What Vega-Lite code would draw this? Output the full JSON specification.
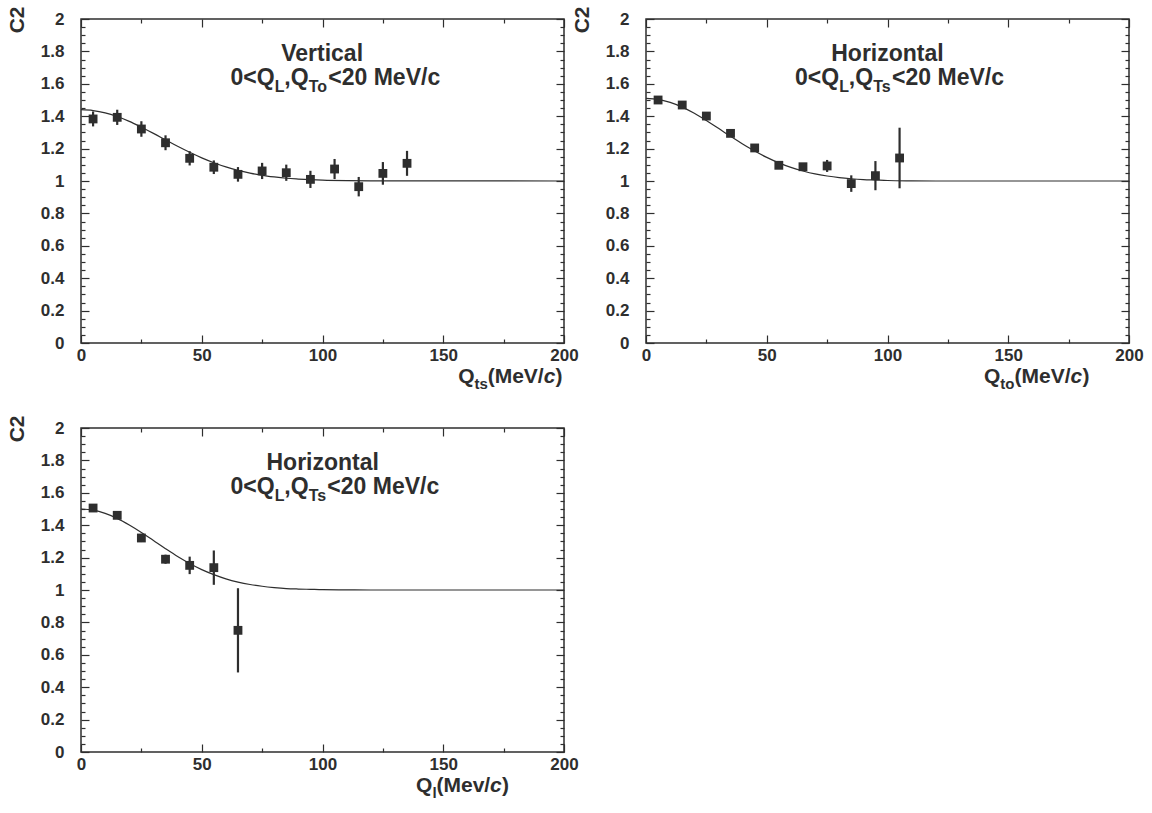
{
  "$schema": "https://vega.github.io/schema/vega-lite/v6.json",
  "background": "white",
  "padding": 5,
  "datasets": {
    "points": [
      {"panel": "V", "q": 5, "c2": 1.383, "err": 0.046},
      {"panel": "V", "q": 15, "c2": 1.393, "err": 0.047},
      {"panel": "V", "q": 25, "c2": 1.321, "err": 0.048},
      {"panel": "V", "q": 35, "c2": 1.236, "err": 0.046},
      {"panel": "V", "q": 45, "c2": 1.140, "err": 0.044},
      {"panel": "V", "q": 55, "c2": 1.085, "err": 0.042},
      {"panel": "V", "q": 65, "c2": 1.041, "err": 0.045},
      {"panel": "V", "q": 75, "c2": 1.062, "err": 0.050},
      {"panel": "V", "q": 85, "c2": 1.051, "err": 0.050},
      {"panel": "V", "q": 95, "c2": 1.010, "err": 0.053},
      {"panel": "V", "q": 105, "c2": 1.074, "err": 0.062},
      {"panel": "V", "q": 115, "c2": 0.965, "err": 0.060},
      {"panel": "V", "q": 125, "c2": 1.047, "err": 0.070},
      {"panel": "V", "q": 135, "c2": 1.109, "err": 0.077},
      {"panel": "To", "q": 5, "c2": 1.500, "err": 0.012},
      {"panel": "To", "q": 15, "c2": 1.469, "err": 0.012},
      {"panel": "To", "q": 25, "c2": 1.401, "err": 0.013},
      {"panel": "To", "q": 35, "c2": 1.294, "err": 0.014},
      {"panel": "To", "q": 45, "c2": 1.204, "err": 0.015},
      {"panel": "To", "q": 55, "c2": 1.097, "err": 0.016},
      {"panel": "To", "q": 65, "c2": 1.088, "err": 0.020},
      {"panel": "To", "q": 75, "c2": 1.093, "err": 0.037},
      {"panel": "To", "q": 85, "c2": 0.984, "err": 0.051},
      {"panel": "To", "q": 95, "c2": 1.033, "err": 0.090},
      {"panel": "To", "q": 105, "c2": 1.142, "err": 0.187},
      {"panel": "L", "q": 5, "c2": 1.506, "err": 0.012},
      {"panel": "L", "q": 15, "c2": 1.461, "err": 0.015},
      {"panel": "L", "q": 25, "c2": 1.321, "err": 0.025},
      {"panel": "L", "q": 35, "c2": 1.190, "err": 0.028},
      {"panel": "L", "q": 45, "c2": 1.152, "err": 0.054},
      {"panel": "L", "q": 55, "c2": 1.138, "err": 0.106},
      {"panel": "L", "q": 65, "c2": 0.751, "err": 0.260}
    ],
    "curve": [
      {"panel": "V", "q": 0, "c2": 1.44}, {"panel": "V", "q": 5, "c2": 1.435}, {"panel": "V", "q": 10, "c2": 1.421}, {"panel": "V", "q": 15, "c2": 1.398},
      {"panel": "V", "q": 20, "c2": 1.368}, {"panel": "V", "q": 25, "c2": 1.332}, {"panel": "V", "q": 30, "c2": 1.294}, {"panel": "V", "q": 35, "c2": 1.254},
      {"panel": "V", "q": 40, "c2": 1.214}, {"panel": "V", "q": 45, "c2": 1.177}, {"panel": "V", "q": 50, "c2": 1.143}, {"panel": "V", "q": 55, "c2": 1.113},
      {"panel": "V", "q": 60, "c2": 1.087}, {"panel": "V", "q": 65, "c2": 1.066}, {"panel": "V", "q": 70, "c2": 1.049}, {"panel": "V", "q": 75, "c2": 1.035},
      {"panel": "V", "q": 80, "c2": 1.025}, {"panel": "V", "q": 85, "c2": 1.017}, {"panel": "V", "q": 90, "c2": 1.012}, {"panel": "V", "q": 95, "c2": 1.008},
      {"panel": "V", "q": 100, "c2": 1.005}, {"panel": "V", "q": 110, "c2": 1.002}, {"panel": "V", "q": 120, "c2": 1.001}, {"panel": "V", "q": 200, "c2": 1.0},
      {"panel": "To", "q": 0, "c2": 1.51}, {"panel": "To", "q": 5, "c2": 1.504}, {"panel": "To", "q": 10, "c2": 1.485}, {"panel": "To", "q": 15, "c2": 1.456},
      {"panel": "To", "q": 20, "c2": 1.418}, {"panel": "To", "q": 25, "c2": 1.373}, {"panel": "To", "q": 30, "c2": 1.325}, {"panel": "To", "q": 35, "c2": 1.276},
      {"panel": "To", "q": 40, "c2": 1.229}, {"panel": "To", "q": 45, "c2": 1.185}, {"panel": "To", "q": 50, "c2": 1.146}, {"panel": "To", "q": 55, "c2": 1.112},
      {"panel": "To", "q": 60, "c2": 1.084}, {"panel": "To", "q": 65, "c2": 1.062}, {"panel": "To", "q": 70, "c2": 1.044}, {"panel": "To", "q": 75, "c2": 1.031},
      {"panel": "To", "q": 80, "c2": 1.021}, {"panel": "To", "q": 85, "c2": 1.014}, {"panel": "To", "q": 90, "c2": 1.009}, {"panel": "To", "q": 95, "c2": 1.006},
      {"panel": "To", "q": 100, "c2": 1.003}, {"panel": "To", "q": 110, "c2": 1.001}, {"panel": "To", "q": 120, "c2": 1.0}, {"panel": "To", "q": 200, "c2": 1.0},
      {"panel": "L", "q": 0, "c2": 1.5}, {"panel": "L", "q": 5, "c2": 1.493}, {"panel": "L", "q": 10, "c2": 1.473}, {"panel": "L", "q": 15, "c2": 1.442},
      {"panel": "L", "q": 20, "c2": 1.401}, {"panel": "L", "q": 25, "c2": 1.355}, {"panel": "L", "q": 30, "c2": 1.305}, {"panel": "L", "q": 35, "c2": 1.255},
      {"panel": "L", "q": 40, "c2": 1.207}, {"panel": "L", "q": 45, "c2": 1.164}, {"panel": "L", "q": 50, "c2": 1.126}, {"panel": "L", "q": 55, "c2": 1.095},
      {"panel": "L", "q": 60, "c2": 1.069}, {"panel": "L", "q": 65, "c2": 1.049}, {"panel": "L", "q": 70, "c2": 1.034}, {"panel": "L", "q": 75, "c2": 1.023},
      {"panel": "L", "q": 80, "c2": 1.015}, {"panel": "L", "q": 85, "c2": 1.009}, {"panel": "L", "q": 90, "c2": 1.006}, {"panel": "L", "q": 95, "c2": 1.004},
      {"panel": "L", "q": 100, "c2": 1.002}, {"panel": "L", "q": 110, "c2": 1.001}, {"panel": "L", "q": 120, "c2": 1.0}, {"panel": "L", "q": 200, "c2": 1.0}
    ],
    "label_main": [
      {"panel": "V", "q": 82.9, "c2": 1.743, "text": "Vertical"},
      {"panel": "V", "q": 61.9, "c2": 1.595, "text": "0<Q"},
      {"panel": "V", "q": 84.2, "c2": 1.595, "text": ",Q"},
      {"panel": "V", "q": 102.4, "c2": 1.595, "text": "<20 MeV/c"},
      {"panel": "To", "q": 76.7, "c2": 1.743, "text": "Horizontal"},
      {"panel": "To", "q": 61.7, "c2": 1.595, "text": "0<Q"},
      {"panel": "To", "q": 84.0, "c2": 1.595, "text": ",Q"},
      {"panel": "To", "q": 101.9, "c2": 1.595, "text": "<20 MeV/c"},
      {"panel": "L", "q": 76.8, "c2": 1.743, "text": "Horizontal"},
      {"panel": "L", "q": 61.9, "c2": 1.595, "text": "0<Q"},
      {"panel": "L", "q": 84.2, "c2": 1.595, "text": ",Q"},
      {"panel": "L", "q": 102.0, "c2": 1.595, "text": "<20 MeV/c"}
    ],
    "label_sub": [
      {"panel": "V", "q": 80.2, "c2": 1.595, "text": "L"},
      {"panel": "V", "q": 94.3, "c2": 1.595, "text": "To"},
      {"panel": "To", "q": 80.0, "c2": 1.595, "text": "L"},
      {"panel": "To", "q": 94.1, "c2": 1.595, "text": "Ts"},
      {"panel": "L", "q": 80.2, "c2": 1.595, "text": "L"},
      {"panel": "L", "q": 94.3, "c2": 1.595, "text": "Ts"}
    ],
    "title_main": [
      {"panel": "V", "q": 156.2, "c2": -0.245, "text": "Q"},
      {"panel": "V", "q": 168.4, "c2": -0.245, "text": "(MeV/"},
      {"panel": "V", "q": 196.5, "c2": -0.245, "text": ")"},
      {"panel": "To", "q": 140.0, "c2": -0.245, "text": "Q"},
      {"panel": "To", "q": 152.6, "c2": -0.245, "text": "(MeV/"},
      {"panel": "To", "q": 180.7, "c2": -0.245, "text": ")"},
      {"panel": "L", "q": 138.7, "c2": -0.245, "text": "Q"},
      {"panel": "L", "q": 147.2, "c2": -0.245, "text": "(Mev/"},
      {"panel": "L", "q": 174.3, "c2": -0.245, "text": ")"}
    ],
    "title_sub": [
      {"panel": "V", "q": 162.9, "c2": -0.245, "text": "ts"},
      {"panel": "To", "q": 146.7, "c2": -0.245, "text": "to"},
      {"panel": "L", "q": 145.5, "c2": -0.245, "text": "l"}
    ],
    "title_italic": [
      {"panel": "V", "q": 191.6, "c2": -0.245, "text": "c"},
      {"panel": "To", "q": 175.8, "c2": -0.245, "text": "c"},
      {"panel": "L", "q": 169.4, "c2": -0.245, "text": "c"}
    ]
  },
  "columns": 2,
  "spacing": {"row": 21, "column": -9},
  "concat": [
    {
      "width": 483, "height": 324,
      "resolve": {"axis": {"x": "independent", "y": "independent"}},
      "layer": [
        {"data": {"name": "curve"}, "transform": [{"filter": "datum.panel == 'V'"}],
         "mark": {"type": "line", "color": "#2e2e2e", "strokeWidth": 1.2, "interpolate": "monotone"},
         "encoding": {
           "x": {"field": "q", "type": "quantitative", "scale": {"domain": [0, 200], "nice": false, "zero": false},
                 "axis": {"orient": "bottom", "ticks": false, "labels": true, "values": [0, 50, 100, 150, 200], "format": "d", "labelPadding": 4, "labelFlush": false, "labelOverlap": false, "title": null}},
           "y": {"field": "c2", "type": "quantitative", "scale": {"domain": [0, 2], "nice": false, "zero": false},
                 "axis": {"orient": "left", "ticks": false, "labels": true, "values": [0, 0.2, 0.4, 0.6, 0.8, 1, 1.2, 1.4, 1.6, 1.8, 2], "format": "~g", "labelPadding": 17, "labelFlush": false, "labelOverlap": false,
                          "title": "C2", "titleX": -64, "titleY": -13, "titleAngle": -90, "titleAlign": "right", "titleBaseline": "middle", "titleFontSize": 21, "titleFontWeight": "bold"}}
         }},
        {"data": {"name": "points"}, "transform": [{"filter": "datum.panel == 'V'"}],
         "mark": {"type": "errorbar", "ticks": false, "rule": {"color": "#2e2e2e", "strokeWidth": 2.2}},
         "encoding": {
           "x": {"field": "q", "type": "quantitative", "scale": {"domain": [0, 200], "nice": false, "zero": false}, "axis": null},
           "y": {"field": "c2", "type": "quantitative", "scale": {"domain": [0, 2], "nice": false, "zero": false}, "axis": null},
           "yError": {"field": "err"}
         }},
        {"data": {"name": "points"}, "transform": [{"filter": "datum.panel == 'V'"}],
         "mark": {"type": "point", "shape": "square", "filled": true, "size": 78, "color": "#2e2e2e", "opacity": 1},
         "encoding": {
           "x": {"field": "q", "type": "quantitative", "scale": {"domain": [0, 200], "nice": false, "zero": false},
                 "axis": {"orient": "top", "ticks": true, "tickSize": -8, "labels": false, "values": [0, 50, 100, 150, 200], "title": null}},
           "y": {"field": "c2", "type": "quantitative", "scale": {"domain": [0, 2], "nice": false, "zero": false},
                 "axis": {"orient": "right", "ticks": true, "tickSize": -8, "labels": false, "values": [0, 0.2, 0.4, 0.6, 0.8, 1, 1.2, 1.4, 1.6, 1.8, 2], "title": null}}
         }},
        {"data": {"name": "label_main"}, "transform": [{"filter": "datum.panel == 'V'"}],
         "mark": {"type": "text", "align": "left", "baseline": "alphabetic", "fontSize": 23, "fontWeight": "bold", "color": "#2e2e2e"},
         "encoding": {
           "x": {"field": "q", "type": "quantitative", "scale": {"domain": [0, 200], "nice": false, "zero": false},
                 "axis": {"orient": "bottom", "ticks": true, "tickSize": -8, "labels": false, "values": [0, 50, 100, 150, 200], "title": null}},
           "y": {"field": "c2", "type": "quantitative", "scale": {"domain": [0, 2], "nice": false, "zero": false},
                 "axis": {"orient": "left", "ticks": true, "tickSize": -8, "labels": false, "values": [0, 0.2, 0.4, 0.6, 0.8, 1, 1.2, 1.4, 1.6, 1.8, 2], "title": null}},
           "text": {"field": "text"}
         }},
        {"data": {"name": "label_sub"}, "transform": [{"filter": "datum.panel == 'V'"}],
         "mark": {"type": "text", "align": "left", "baseline": "alphabetic", "fontSize": 16, "fontWeight": "bold", "color": "#2e2e2e", "dy": 7},
         "encoding": {
           "x": {"field": "q", "type": "quantitative", "scale": {"domain": [0, 200], "nice": false, "zero": false},
                 "axis": {"orient": "top", "ticks": true, "tickSize": -4, "labels": false, "values": [25, 75, 125, 175], "title": null}},
           "y": {"field": "c2", "type": "quantitative", "scale": {"domain": [0, 2], "nice": false, "zero": false},
                 "axis": {"orient": "right", "ticks": true, "tickSize": -4, "labels": false, "values": [0.05, 0.1, 0.15, 0.25, 0.3, 0.35, 0.45, 0.5, 0.55, 0.65, 0.7, 0.75, 0.85, 0.9, 0.95, 1.05, 1.1, 1.15, 1.25, 1.3, 1.35, 1.45, 1.5, 1.55, 1.65, 1.7, 1.75, 1.85, 1.9, 1.95], "title": null}},
           "text": {"field": "text"}
         }},
        {"data": {"name": "title_main"}, "transform": [{"filter": "datum.panel == 'V'"}],
         "mark": {"type": "text", "align": "left", "baseline": "alphabetic", "fontSize": 21, "fontWeight": "bold", "color": "#2e2e2e"},
         "encoding": {
           "x": {"field": "q", "type": "quantitative", "scale": {"domain": [0, 200], "nice": false, "zero": false},
                 "axis": {"orient": "bottom", "ticks": true, "tickSize": -4, "labels": false, "values": [25, 75, 125, 175], "title": null}},
           "y": {"field": "c2", "type": "quantitative", "scale": {"domain": [0, 2], "nice": false, "zero": false},
                 "axis": {"orient": "left", "ticks": true, "tickSize": -4, "labels": false, "values": [0.05, 0.1, 0.15, 0.25, 0.3, 0.35, 0.45, 0.5, 0.55, 0.65, 0.7, 0.75, 0.85, 0.9, 0.95, 1.05, 1.1, 1.15, 1.25, 1.3, 1.35, 1.45, 1.5, 1.55, 1.65, 1.7, 1.75, 1.85, 1.9, 1.95], "title": null}},
           "text": {"field": "text"}
         }},
        {"data": {"name": "title_sub"}, "transform": [{"filter": "datum.panel == 'V'"}],
         "mark": {"type": "text", "align": "left", "baseline": "alphabetic", "fontSize": 15, "fontWeight": "bold", "color": "#2e2e2e", "dy": 6},
         "encoding": {
           "x": {"field": "q", "type": "quantitative", "scale": {"domain": [0, 200], "nice": false, "zero": false}, "axis": null},
           "y": {"field": "c2", "type": "quantitative", "scale": {"domain": [0, 2], "nice": false, "zero": false}, "axis": null},
           "text": {"field": "text"}
         }},
        {"data": {"name": "title_italic"}, "transform": [{"filter": "datum.panel == 'V'"}],
         "mark": {"type": "text", "align": "left", "baseline": "alphabetic", "fontSize": 21, "fontWeight": "bold", "fontStyle": "italic", "color": "#2e2e2e"},
         "encoding": {
           "x": {"field": "q", "type": "quantitative", "scale": {"domain": [0, 200], "nice": false, "zero": false}, "axis": null},
           "y": {"field": "c2", "type": "quantitative", "scale": {"domain": [0, 2], "nice": false, "zero": false}, "axis": null},
           "text": {"field": "text"}
         }}
      ]
    },
    {
      "width": 483, "height": 324,
      "resolve": {"axis": {"x": "independent", "y": "independent"}},
      "layer": [
        {"data": {"name": "curve"}, "transform": [{"filter": "datum.panel == 'To'"}],
         "mark": {"type": "line", "color": "#2e2e2e", "strokeWidth": 1.2, "interpolate": "monotone"},
         "encoding": {
           "x": {"field": "q", "type": "quantitative", "scale": {"domain": [0, 200], "nice": false, "zero": false},
                 "axis": {"orient": "bottom", "ticks": false, "labels": true, "values": [0, 50, 100, 150, 200], "format": "d", "labelPadding": 4, "labelFlush": false, "labelOverlap": false, "title": null}},
           "y": {"field": "c2", "type": "quantitative", "scale": {"domain": [0, 2], "nice": false, "zero": false},
                 "axis": {"orient": "left", "ticks": false, "labels": true, "values": [0, 0.2, 0.4, 0.6, 0.8, 1, 1.2, 1.4, 1.6, 1.8, 2], "format": "~g", "labelPadding": 17, "labelFlush": false, "labelOverlap": false,
                          "title": "C2", "titleX": -64, "titleY": -13, "titleAngle": -90, "titleAlign": "right", "titleBaseline": "middle", "titleFontSize": 21, "titleFontWeight": "bold"}}
         }},
        {"data": {"name": "points"}, "transform": [{"filter": "datum.panel == 'To'"}],
         "mark": {"type": "errorbar", "ticks": false, "rule": {"color": "#2e2e2e", "strokeWidth": 2.2}},
         "encoding": {
           "x": {"field": "q", "type": "quantitative", "scale": {"domain": [0, 200], "nice": false, "zero": false}, "axis": null},
           "y": {"field": "c2", "type": "quantitative", "scale": {"domain": [0, 2], "nice": false, "zero": false}, "axis": null},
           "yError": {"field": "err"}
         }},
        {"data": {"name": "points"}, "transform": [{"filter": "datum.panel == 'To'"}],
         "mark": {"type": "point", "shape": "square", "filled": true, "size": 78, "color": "#2e2e2e", "opacity": 1},
         "encoding": {
           "x": {"field": "q", "type": "quantitative", "scale": {"domain": [0, 200], "nice": false, "zero": false},
                 "axis": {"orient": "top", "ticks": true, "tickSize": -8, "labels": false, "values": [0, 50, 100, 150, 200], "title": null}},
           "y": {"field": "c2", "type": "quantitative", "scale": {"domain": [0, 2], "nice": false, "zero": false},
                 "axis": {"orient": "right", "ticks": true, "tickSize": -8, "labels": false, "values": [0, 0.2, 0.4, 0.6, 0.8, 1, 1.2, 1.4, 1.6, 1.8, 2], "title": null}}
         }},
        {"data": {"name": "label_main"}, "transform": [{"filter": "datum.panel == 'To'"}],
         "mark": {"type": "text", "align": "left", "baseline": "alphabetic", "fontSize": 23, "fontWeight": "bold", "color": "#2e2e2e"},
         "encoding": {
           "x": {"field": "q", "type": "quantitative", "scale": {"domain": [0, 200], "nice": false, "zero": false},
                 "axis": {"orient": "bottom", "ticks": true, "tickSize": -8, "labels": false, "values": [0, 50, 100, 150, 200], "title": null}},
           "y": {"field": "c2", "type": "quantitative", "scale": {"domain": [0, 2], "nice": false, "zero": false},
                 "axis": {"orient": "left", "ticks": true, "tickSize": -8, "labels": false, "values": [0, 0.2, 0.4, 0.6, 0.8, 1, 1.2, 1.4, 1.6, 1.8, 2], "title": null}},
           "text": {"field": "text"}
         }},
        {"data": {"name": "label_sub"}, "transform": [{"filter": "datum.panel == 'To'"}],
         "mark": {"type": "text", "align": "left", "baseline": "alphabetic", "fontSize": 16, "fontWeight": "bold", "color": "#2e2e2e", "dy": 7},
         "encoding": {
           "x": {"field": "q", "type": "quantitative", "scale": {"domain": [0, 200], "nice": false, "zero": false},
                 "axis": {"orient": "top", "ticks": true, "tickSize": -4, "labels": false, "values": [25, 75, 125, 175], "title": null}},
           "y": {"field": "c2", "type": "quantitative", "scale": {"domain": [0, 2], "nice": false, "zero": false},
                 "axis": {"orient": "right", "ticks": true, "tickSize": -4, "labels": false, "values": [0.05, 0.1, 0.15, 0.25, 0.3, 0.35, 0.45, 0.5, 0.55, 0.65, 0.7, 0.75, 0.85, 0.9, 0.95, 1.05, 1.1, 1.15, 1.25, 1.3, 1.35, 1.45, 1.5, 1.55, 1.65, 1.7, 1.75, 1.85, 1.9, 1.95], "title": null}},
           "text": {"field": "text"}
         }},
        {"data": {"name": "title_main"}, "transform": [{"filter": "datum.panel == 'To'"}],
         "mark": {"type": "text", "align": "left", "baseline": "alphabetic", "fontSize": 21, "fontWeight": "bold", "color": "#2e2e2e"},
         "encoding": {
           "x": {"field": "q", "type": "quantitative", "scale": {"domain": [0, 200], "nice": false, "zero": false},
                 "axis": {"orient": "bottom", "ticks": true, "tickSize": -4, "labels": false, "values": [25, 75, 125, 175], "title": null}},
           "y": {"field": "c2", "type": "quantitative", "scale": {"domain": [0, 2], "nice": false, "zero": false},
                 "axis": {"orient": "left", "ticks": true, "tickSize": -4, "labels": false, "values": [0.05, 0.1, 0.15, 0.25, 0.3, 0.35, 0.45, 0.5, 0.55, 0.65, 0.7, 0.75, 0.85, 0.9, 0.95, 1.05, 1.1, 1.15, 1.25, 1.3, 1.35, 1.45, 1.5, 1.55, 1.65, 1.7, 1.75, 1.85, 1.9, 1.95], "title": null}},
           "text": {"field": "text"}
         }},
        {"data": {"name": "title_sub"}, "transform": [{"filter": "datum.panel == 'To'"}],
         "mark": {"type": "text", "align": "left", "baseline": "alphabetic", "fontSize": 15, "fontWeight": "bold", "color": "#2e2e2e", "dy": 6},
         "encoding": {
           "x": {"field": "q", "type": "quantitative", "scale": {"domain": [0, 200], "nice": false, "zero": false}, "axis": null},
           "y": {"field": "c2", "type": "quantitative", "scale": {"domain": [0, 2], "nice": false, "zero": false}, "axis": null},
           "text": {"field": "text"}
         }},
        {"data": {"name": "title_italic"}, "transform": [{"filter": "datum.panel == 'To'"}],
         "mark": {"type": "text", "align": "left", "baseline": "alphabetic", "fontSize": 21, "fontWeight": "bold", "fontStyle": "italic", "color": "#2e2e2e"},
         "encoding": {
           "x": {"field": "q", "type": "quantitative", "scale": {"domain": [0, 200], "nice": false, "zero": false}, "axis": null},
           "y": {"field": "c2", "type": "quantitative", "scale": {"domain": [0, 2], "nice": false, "zero": false}, "axis": null},
           "text": {"field": "text"}
         }}
      ]
    },
    {
      "width": 483, "height": 324,
      "resolve": {"axis": {"x": "independent", "y": "independent"}},
      "layer": [
        {"data": {"name": "curve"}, "transform": [{"filter": "datum.panel == 'L'"}],
         "mark": {"type": "line", "color": "#2e2e2e", "strokeWidth": 1.2, "interpolate": "monotone"},
         "encoding": {
           "x": {"field": "q", "type": "quantitative", "scale": {"domain": [0, 200], "nice": false, "zero": false},
                 "axis": {"orient": "bottom", "ticks": false, "labels": true, "values": [0, 50, 100, 150, 200], "format": "d", "labelPadding": 4, "labelFlush": false, "labelOverlap": false, "title": null}},
           "y": {"field": "c2", "type": "quantitative", "scale": {"domain": [0, 2], "nice": false, "zero": false},
                 "axis": {"orient": "left", "ticks": false, "labels": true, "values": [0, 0.2, 0.4, 0.6, 0.8, 1, 1.2, 1.4, 1.6, 1.8, 2], "format": "~g", "labelPadding": 17, "labelFlush": false, "labelOverlap": false,
                          "title": "C2", "titleX": -64, "titleY": -13, "titleAngle": -90, "titleAlign": "right", "titleBaseline": "middle", "titleFontSize": 21, "titleFontWeight": "bold"}}
         }},
        {"data": {"name": "points"}, "transform": [{"filter": "datum.panel == 'L'"}],
         "mark": {"type": "errorbar", "ticks": false, "rule": {"color": "#2e2e2e", "strokeWidth": 2.2}},
         "encoding": {
           "x": {"field": "q", "type": "quantitative", "scale": {"domain": [0, 200], "nice": false, "zero": false}, "axis": null},
           "y": {"field": "c2", "type": "quantitative", "scale": {"domain": [0, 2], "nice": false, "zero": false}, "axis": null},
           "yError": {"field": "err"}
         }},
        {"data": {"name": "points"}, "transform": [{"filter": "datum.panel == 'L'"}],
         "mark": {"type": "point", "shape": "square", "filled": true, "size": 78, "color": "#2e2e2e", "opacity": 1},
         "encoding": {
           "x": {"field": "q", "type": "quantitative", "scale": {"domain": [0, 200], "nice": false, "zero": false},
                 "axis": {"orient": "top", "ticks": true, "tickSize": -8, "labels": false, "values": [0, 50, 100, 150, 200], "title": null}},
           "y": {"field": "c2", "type": "quantitative", "scale": {"domain": [0, 2], "nice": false, "zero": false},
                 "axis": {"orient": "right", "ticks": true, "tickSize": -8, "labels": false, "values": [0, 0.2, 0.4, 0.6, 0.8, 1, 1.2, 1.4, 1.6, 1.8, 2], "title": null}}
         }},
        {"data": {"name": "label_main"}, "transform": [{"filter": "datum.panel == 'L'"}],
         "mark": {"type": "text", "align": "left", "baseline": "alphabetic", "fontSize": 23, "fontWeight": "bold", "color": "#2e2e2e"},
         "encoding": {
           "x": {"field": "q", "type": "quantitative", "scale": {"domain": [0, 200], "nice": false, "zero": false},
                 "axis": {"orient": "bottom", "ticks": true, "tickSize": -8, "labels": false, "values": [0, 50, 100, 150, 200], "title": null}},
           "y": {"field": "c2", "type": "quantitative", "scale": {"domain": [0, 2], "nice": false, "zero": false},
                 "axis": {"orient": "left", "ticks": true, "tickSize": -8, "labels": false, "values": [0, 0.2, 0.4, 0.6, 0.8, 1, 1.2, 1.4, 1.6, 1.8, 2], "title": null}},
           "text": {"field": "text"}
         }},
        {"data": {"name": "label_sub"}, "transform": [{"filter": "datum.panel == 'L'"}],
         "mark": {"type": "text", "align": "left", "baseline": "alphabetic", "fontSize": 16, "fontWeight": "bold", "color": "#2e2e2e", "dy": 7},
         "encoding": {
           "x": {"field": "q", "type": "quantitative", "scale": {"domain": [0, 200], "nice": false, "zero": false},
                 "axis": {"orient": "top", "ticks": true, "tickSize": -4, "labels": false, "values": [25, 75, 125, 175], "title": null}},
           "y": {"field": "c2", "type": "quantitative", "scale": {"domain": [0, 2], "nice": false, "zero": false},
                 "axis": {"orient": "right", "ticks": true, "tickSize": -4, "labels": false, "values": [0.05, 0.1, 0.15, 0.25, 0.3, 0.35, 0.45, 0.5, 0.55, 0.65, 0.7, 0.75, 0.85, 0.9, 0.95, 1.05, 1.1, 1.15, 1.25, 1.3, 1.35, 1.45, 1.5, 1.55, 1.65, 1.7, 1.75, 1.85, 1.9, 1.95], "title": null}},
           "text": {"field": "text"}
         }},
        {"data": {"name": "title_main"}, "transform": [{"filter": "datum.panel == 'L'"}],
         "mark": {"type": "text", "align": "left", "baseline": "alphabetic", "fontSize": 21, "fontWeight": "bold", "color": "#2e2e2e"},
         "encoding": {
           "x": {"field": "q", "type": "quantitative", "scale": {"domain": [0, 200], "nice": false, "zero": false},
                 "axis": {"orient": "bottom", "ticks": true, "tickSize": -4, "labels": false, "values": [25, 75, 125, 175], "title": null}},
           "y": {"field": "c2", "type": "quantitative", "scale": {"domain": [0, 2], "nice": false, "zero": false},
                 "axis": {"orient": "left", "ticks": true, "tickSize": -4, "labels": false, "values": [0.05, 0.1, 0.15, 0.25, 0.3, 0.35, 0.45, 0.5, 0.55, 0.65, 0.7, 0.75, 0.85, 0.9, 0.95, 1.05, 1.1, 1.15, 1.25, 1.3, 1.35, 1.45, 1.5, 1.55, 1.65, 1.7, 1.75, 1.85, 1.9, 1.95], "title": null}},
           "text": {"field": "text"}
         }},
        {"data": {"name": "title_sub"}, "transform": [{"filter": "datum.panel == 'L'"}],
         "mark": {"type": "text", "align": "left", "baseline": "alphabetic", "fontSize": 15, "fontWeight": "bold", "color": "#2e2e2e", "dy": 6},
         "encoding": {
           "x": {"field": "q", "type": "quantitative", "scale": {"domain": [0, 200], "nice": false, "zero": false}, "axis": null},
           "y": {"field": "c2", "type": "quantitative", "scale": {"domain": [0, 2], "nice": false, "zero": false}, "axis": null},
           "text": {"field": "text"}
         }},
        {"data": {"name": "title_italic"}, "transform": [{"filter": "datum.panel == 'L'"}],
         "mark": {"type": "text", "align": "left", "baseline": "alphabetic", "fontSize": 21, "fontWeight": "bold", "fontStyle": "italic", "color": "#2e2e2e"},
         "encoding": {
           "x": {"field": "q", "type": "quantitative", "scale": {"domain": [0, 200], "nice": false, "zero": false}, "axis": null},
           "y": {"field": "c2", "type": "quantitative", "scale": {"domain": [0, 2], "nice": false, "zero": false}, "axis": null},
           "text": {"field": "text"}
         }}
      ]
    }
  ],
  "config": {
    "font": "Liberation Sans",
    "view": {"stroke": "#2e2e2e", "strokeWidth": 1.5},
    "axis": {"grid": false, "domain": false, "tickColor": "#2e2e2e", "tickWidth": 1.2, "labelColor": "#2e2e2e", "labelFont": "Liberation Sans", "labelFontWeight": "bold", "labelFontSize": 17, "titleColor": "#2e2e2e", "titleFont": "Liberation Sans"}
  }
}
